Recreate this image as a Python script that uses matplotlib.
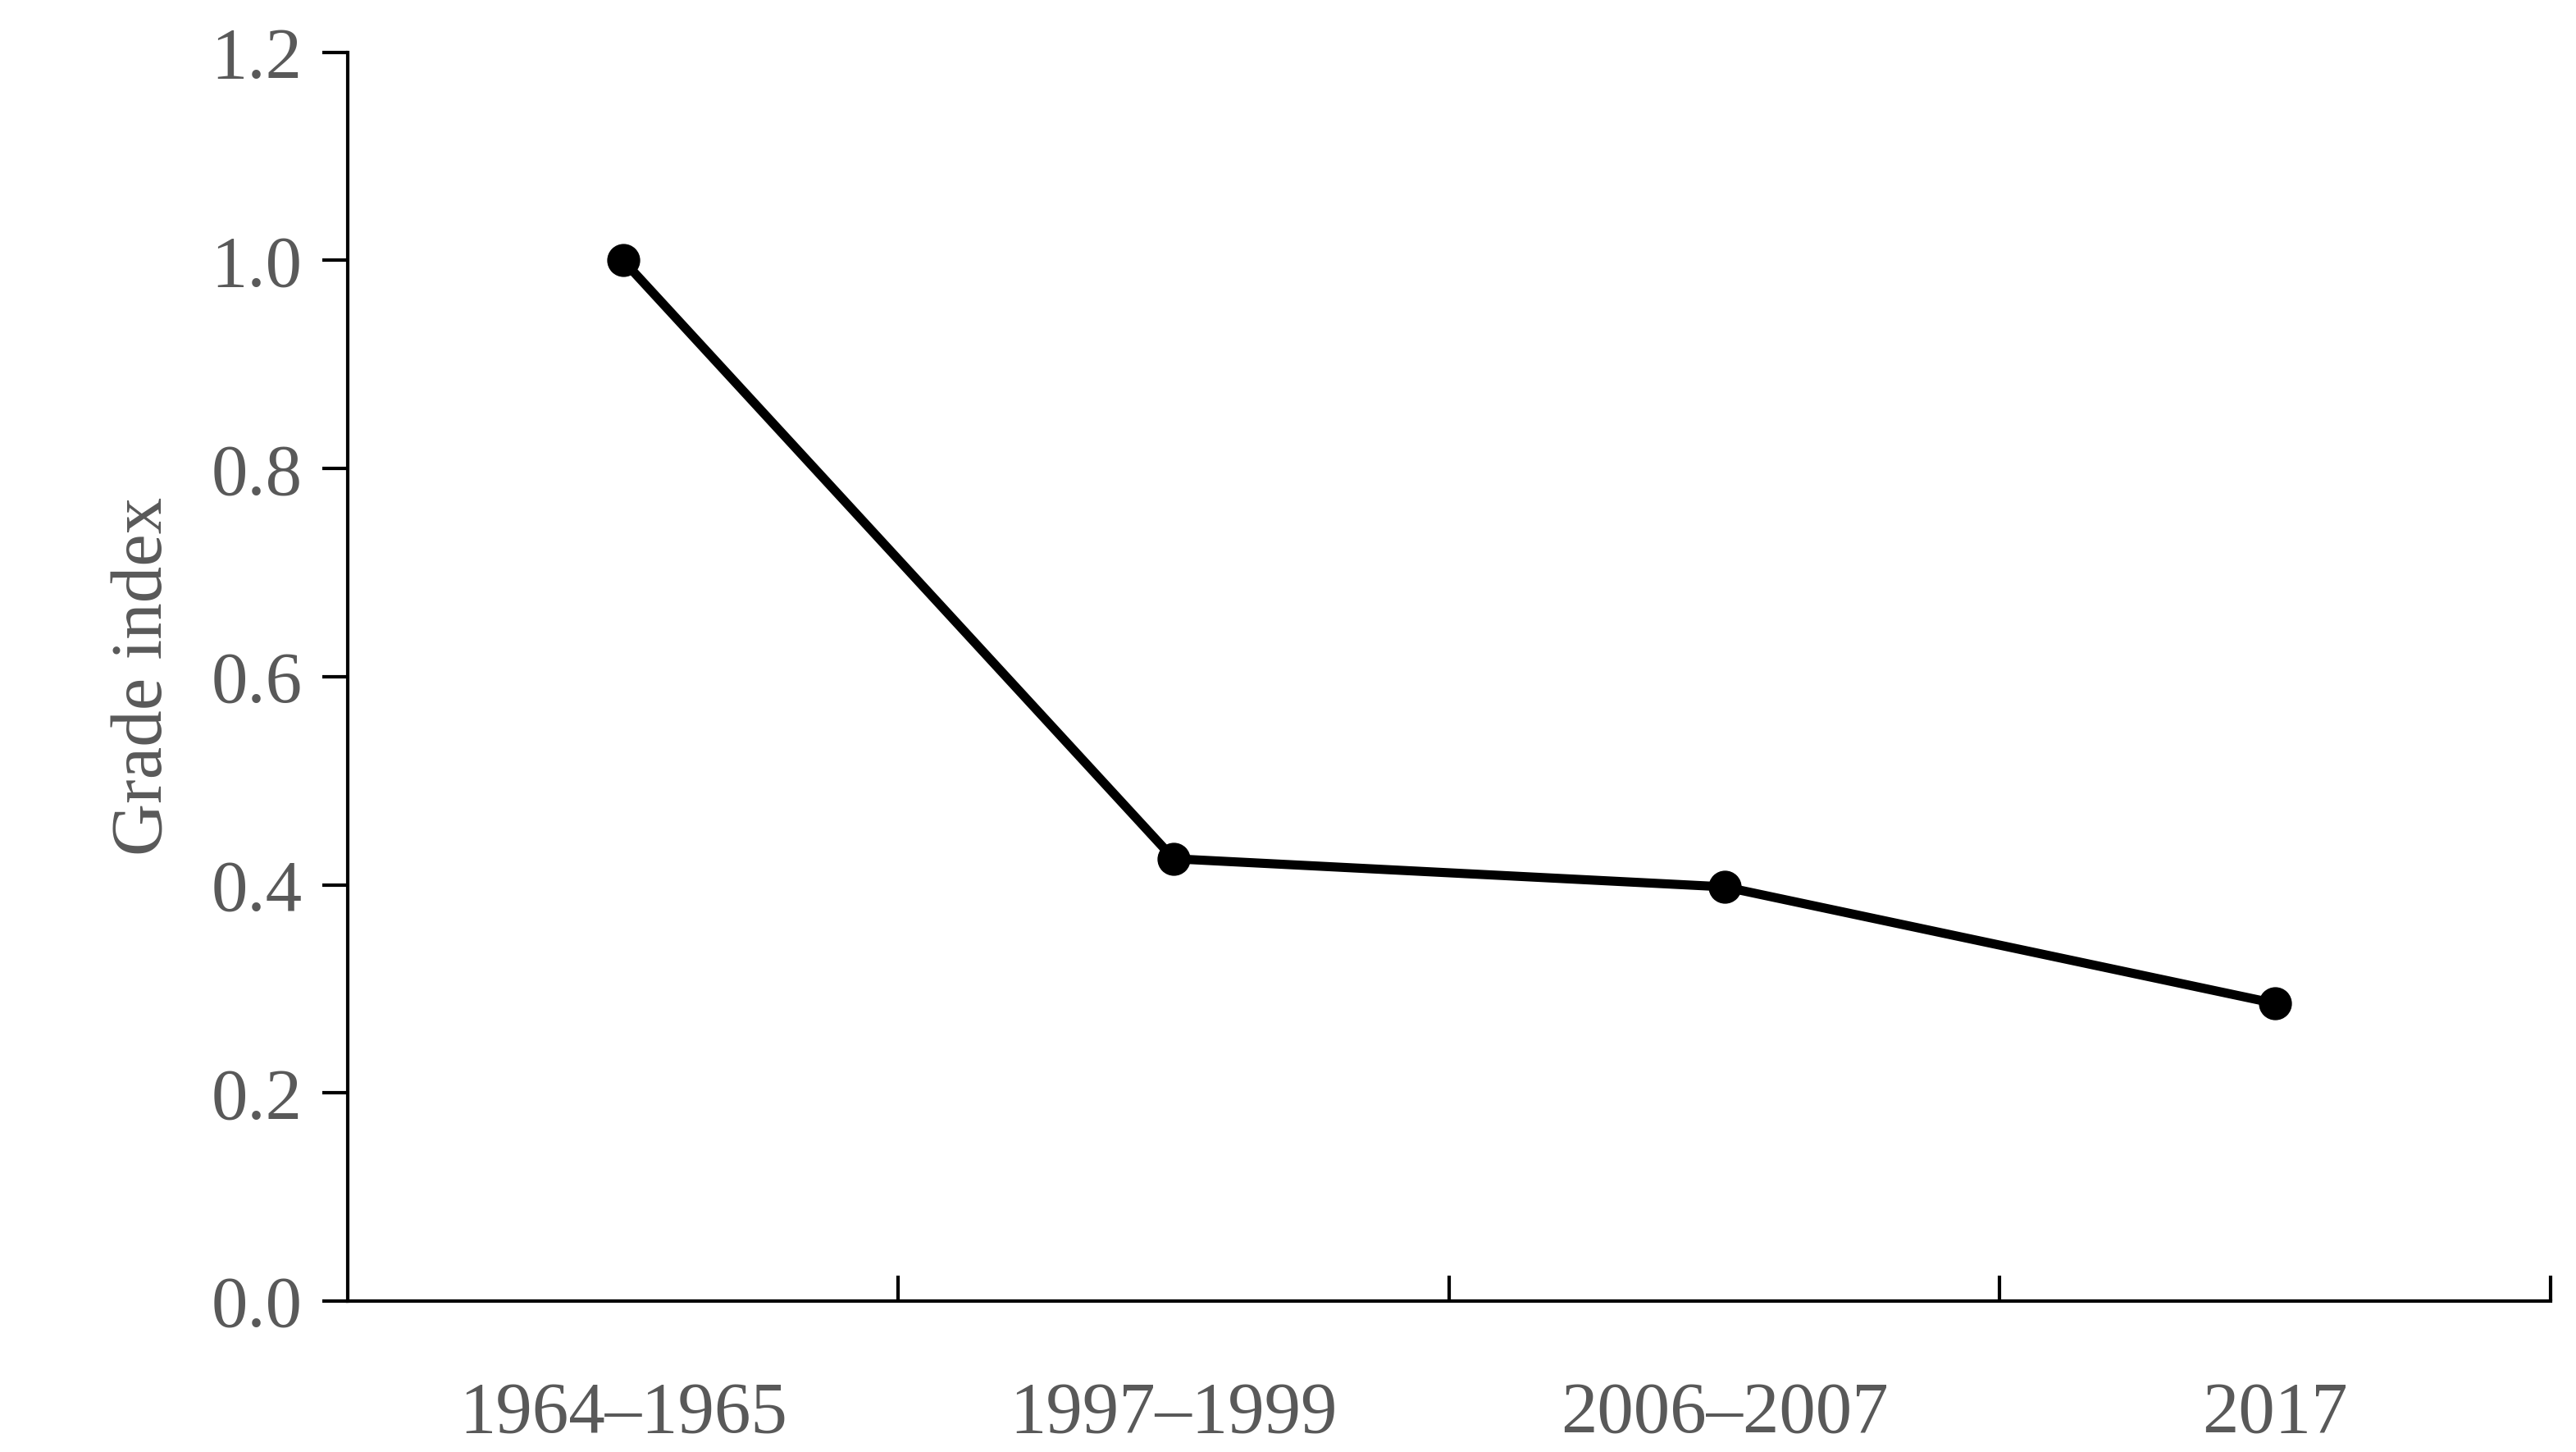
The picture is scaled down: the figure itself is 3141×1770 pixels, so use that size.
import matplotlib.pyplot as plt
from matplotlib.ticker import FixedLocator

periods = ['1964–1965', '1997–1999', '2006–2007', '2017']
grade_index = [1.0, 0.425, 0.398, 0.286]

plt.rcParams['font.family'] = ['Liberation Serif', 'DejaVu Serif']
gray = '#595959'

fig = plt.figure(figsize=(31.41, 17.70), dpi=100)
ax = fig.add_axes([0.135, 0.104, 0.855, 0.86])

x = [i + 0.5 for i in range(len(periods))]
ax.plot(x, grade_index, color='black', lw=8, marker='o', ms=28, zorder=3)

ax.set_xlim(0, len(periods))
ax.set_ylim(0, 1.2)
ax.set_yticks([0, 0.2, 0.4, 0.6, 0.8, 1.0, 1.2])
ax.set_yticklabels([f'{v:.1f}' for v in [0, 0.2, 0.4, 0.6, 0.8, 1.0, 1.2]])

ax.xaxis.set_major_locator(FixedLocator([1, 2, 3, 4]))
ax.set_xticklabels([])
ax.xaxis.set_minor_locator(FixedLocator(x))
ax.set_xticklabels(periods, minor=True)
ax.tick_params(axis='x', which='major', direction='in', length=22, width=3)
ax.tick_params(axis='x', which='minor', length=0, pad=70, labelsize=64, labelcolor=gray)
ax.tick_params(axis='y', direction='out', length=22, width=3, pad=18, labelsize=64, labelcolor=gray)

for s in ['top', 'right']:
    ax.spines[s].set_visible(False)
for s in ['left', 'bottom']:
    ax.spines[s].set_linewidth(3)

ax.set_ylabel('Grade index', fontsize=64, color=gray, labelpad=30)

fig.savefig('out.png', dpi=100)
